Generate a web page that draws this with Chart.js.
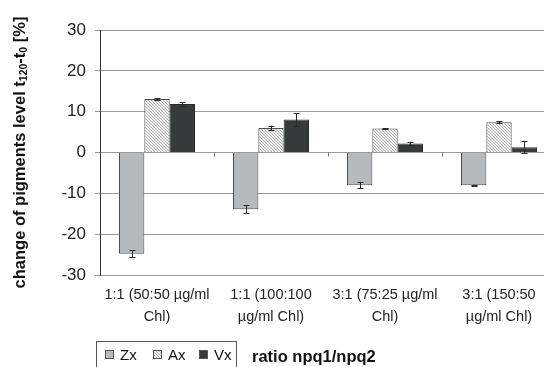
<!DOCTYPE html>
<html>
<head>
<meta charset="utf-8">
<script src="https://cdn.jsdelivr.net/npm/chart.js@4.4.0/dist/chart.umd.min.js"></script>
<style>
  html, body { margin: 0; padding: 0; background: #fff; }
  #wrap { width: 544px; height: 367px; overflow: hidden; position: relative; }
  canvas { display: block; }
</style>
</head>
<body>
<div id="wrap">
  <canvas id="pigmentChart" width="560" height="367"></canvas>
</div>
<script>
const categories = [
  ["1:1 (50:50 µg/ml", "Chl)"],
  ["1:1 (100:100", "µg/ml Chl)"],
  ["3:1 (75:25 µg/ml", "Chl)"],
  ["3:1 (150:50", "µg/ml Chl)"]
];
const zxValues = [-24.8, -13.9, -8.0, -8.0];
const zxErrors = [0.9, 1.0, 0.8, 0.1];
const axValues = [13.1, 6.0, 5.9, 7.4];
const axErrors = [0.2, 0.6, 0.1, 0.2];
const vxValues = [11.9, 8.1, 2.2, 1.3];
const vxErrors = [0.5, 1.5, 0.45, 1.4];
const yTicks = [-30, -20, -10, 0, 10, 20, 30];

const yTitle = [
  { text: "change of pigments level t", sub: false },
  { text: "120", sub: true },
  { text: "-t", sub: false },
  { text: "0", sub: true },
  { text: " [%]", sub: false }
];
const xTitle = "ratio npq1/npq2";

function makeHatch() {
  const c = document.createElement("canvas");
  c.width = 3;
  c.height = 3;
  const g = c.getContext("2d");
  g.fillStyle = "#eeeeee";
  g.fillRect(0, 0, 3, 3);
  g.fillStyle = "#b4b4b4";
  for (let i = 0; i < 3; i++) {
    g.fillRect(i, i, 1, 1);
  }
  return g.createPattern(c, "repeat");
}

const hatch = makeHatch();

// error bars, category ticks on the zero line, y title, legend box
const extrasPlugin = {
  id: "extras",
  afterDatasetsDraw(chart) {
    const ctx = chart.ctx;
    const x = chart.scales.x;
    const y = chart.scales.y;
    const zeroY = y.getPixelForValue(0);

    ctx.save();
    ctx.strokeStyle = "#777";
    ctx.lineWidth = 1;
    for (let i = 1; i < categories.length; i++) {
      const px = Math.round((x.getPixelForTick(i - 1) + x.getPixelForTick(i)) / 2) + 0.5;
      ctx.beginPath();
      ctx.moveTo(px, zeroY);
      ctx.lineTo(px, zeroY + 4);
      ctx.stroke();
    }

    ctx.strokeStyle = "#2a2a2a";
    chart.data.datasets.forEach((ds, di) => {
      const meta = chart.getDatasetMeta(di);
      meta.data.forEach((bar, i) => {
        const v = ds.data[i];
        const e = ds.errors[i];
        const cx = Math.round(bar.x) + 0.5;
        const yTop = y.getPixelForValue(v + e);
        const yBot = y.getPixelForValue(v - e);
        ctx.beginPath();
        ctx.moveTo(cx, yTop);
        ctx.lineTo(cx, yBot);
        ctx.moveTo(cx - 3, Math.round(yTop) + 0.5);
        ctx.lineTo(cx + 3, Math.round(yTop) + 0.5);
        ctx.moveTo(cx - 3, Math.round(yBot) + 0.5);
        ctx.lineTo(cx + 3, Math.round(yBot) + 0.5);
        ctx.stroke();
      });
    });
    ctx.restore();
  },
  afterDraw(chart) {
    const ctx = chart.ctx;
    const y = chart.scales.y;
    const midY = (y.top + y.bottom) / 2;

    // rotated y-axis title with subscripts
    ctx.save();
    ctx.translate(20, midY);
    ctx.rotate(-Math.PI / 2);
    ctx.fillStyle = "#111";
    ctx.textBaseline = "middle";
    const mainFont = "bold 16.5px 'Liberation Sans', Arial, sans-serif";
    const subFont = "bold 10.5px 'Liberation Sans', Arial, sans-serif";
    let total = 0;
    yTitle.forEach((s) => {
      ctx.font = s.sub ? subFont : mainFont;
      total += ctx.measureText(s.text).width;
    });
    let tx = -total / 2;
    yTitle.forEach((s) => {
      ctx.font = s.sub ? subFont : mainFont;
      ctx.fillText(s.text, tx, s.sub ? 4.5 : 0);
      tx += ctx.measureText(s.text).width;
    });
    ctx.restore();

    // legend box
    ctx.save();
    ctx.strokeStyle = "#555";
    ctx.lineWidth = 1;
    ctx.strokeRect(96.5, 341.5, 140, 40);
    const swatchX = [105, 153, 199];
    ctx.font = "15px 'Liberation Sans', Arial, sans-serif";
    ctx.textBaseline = "middle";
    chart.data.datasets.forEach((ds, i) => {
      ctx.fillStyle = ds.backgroundColor;
      ctx.fillRect(swatchX[i], 350, 9, 9);
      ctx.strokeStyle = "#555";
      ctx.strokeRect(swatchX[i] + 0.5, 350.5, 8, 8);
      ctx.fillStyle = "#111";
      ctx.fillText(ds.label, swatchX[i] + 15, 355.5);
    });
    ctx.font = "bold 16.5px 'Liberation Sans', Arial, sans-serif";
    ctx.fillText(xTitle, 252, 357);
    ctx.restore();
  }
};

new Chart(document.getElementById("pigmentChart"), {
  type: "bar",
  data: {
    labels: categories,
    datasets: [
      {
        label: "Zx",
        data: zxValues,
        errors: zxErrors,
        backgroundColor: "#b6babd",
        borderColor: "#4d4d4d",
        borderWidth: 1
      },
      {
        label: "Ax",
        data: axValues,
        errors: axErrors,
        backgroundColor: hatch,
        borderColor: "#4d4d4d",
        borderWidth: 1
      },
      {
        label: "Vx",
        data: vxValues,
        errors: vxErrors,
        backgroundColor: "#363a3b",
        borderColor: "#2a2a2a",
        borderWidth: 1
      }
    ]
  },
  options: {
    responsive: false,
    animation: false,
    layout: {
      padding: { left: 0, top: 30, right: 4, bottom: 0 }
    },
    datasets: {
      bar: {
        categoryPercentage: 0.667,
        barPercentage: 1
      }
    },
    scales: {
      x: {
        grid: { display: false, drawTicks: false },
        border: { display: false },
        ticks: {
          padding: 9,
          color: "#222",
          maxRotation: 0,
          autoSkip: false,
          font: { family: "'Liberation Sans', Arial, sans-serif", size: 14.5, lineHeight: 1.5 }
        },
        afterFit(scale) {
          scale.height = 92;
        }
      },
      y: {
        min: -30,
        max: 30,
        afterBuildTicks(scale) {
          scale.ticks = yTicks.map((v) => ({ value: v }));
        },
        grid: {
          color: "#9a9a9a",
          lineWidth: 1,
          drawTicks: true,
          tickLength: 5
        },
        border: { display: true, color: "#333", width: 1 },
        ticks: {
          padding: 9,
          color: "#222",
          font: { family: "'Liberation Sans', Arial, sans-serif", size: 17 }
        },
        afterFit(scale) {
          scale.width = 100;
        }
      }
    },
    plugins: {
      legend: { display: false },
      tooltip: { enabled: false }
    }
  },
  plugins: [extrasPlugin]
});
</script>
</body>
</html>
